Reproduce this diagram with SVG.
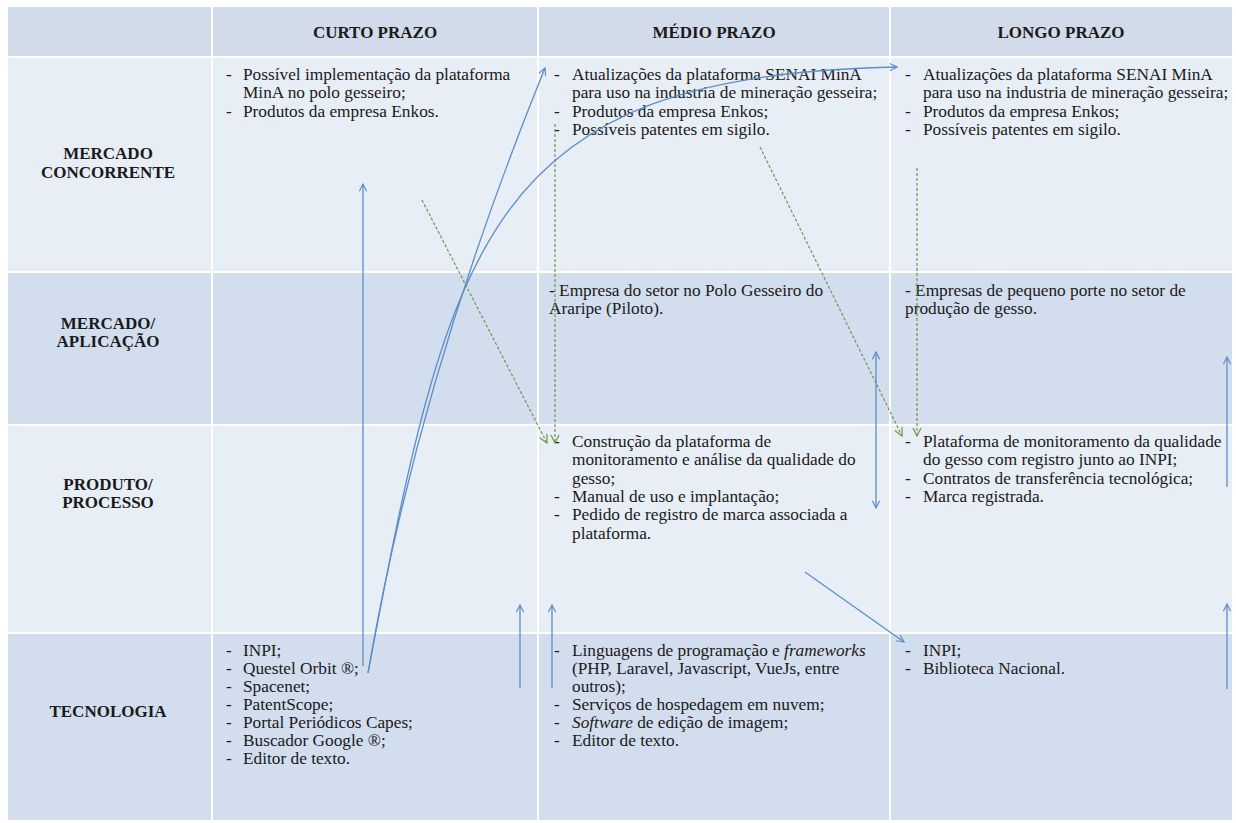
<svg xmlns="http://www.w3.org/2000/svg" width="1236" height="823" viewBox="0 0 1236 823">
<style>
text{font-family:'Liberation Serif','Tinos','Times New Roman','DejaVu Serif',serif}
.t{font-size:17.3px;fill:#1a1a1a}
.h{font-size:17px;font-weight:bold;fill:#1a1a1a;text-anchor:middle}
.hd{fill:#d1dbe9}
.lt{fill:#e8eef6}
.dk{fill:#d2ddee}
.b{fill:none;stroke:#5b8ec9;stroke-width:1.3}
.g{fill:none;stroke:#74944a;stroke-width:1.2;stroke-dasharray:3 2}
</style>
<defs>
<marker id="ab" viewBox="0 0 10 10" refX="9" refY="5" markerWidth="9" markerHeight="9" markerUnits="userSpaceOnUse" orient="auto-start-reverse">
<path d="M1,1 L9,5 L1,9" fill="none" stroke="#5b8ec9" stroke-width="1.3"/>
</marker>
<marker id="ag" viewBox="0 0 10 10" refX="9" refY="5" markerWidth="10" markerHeight="10" markerUnits="userSpaceOnUse" orient="auto">
<path d="M1,1 L9,5 L1,9" fill="none" stroke="#74944a" stroke-width="1.2"/>
</marker>
</defs>
<rect width="1236" height="823" fill="#ffffff"/>
<g id="grid">
<rect class="hd" x="8" y="7" width="203" height="49"/>
<rect class="hd" x="213" y="7" width="324" height="49"/>
<rect class="hd" x="539" y="7" width="350" height="49"/>
<rect class="hd" x="891" y="7" width="341" height="49"/>
<rect class="lt" x="8" y="58" width="203" height="213"/>
<rect class="lt" x="213" y="58" width="324" height="213"/>
<rect class="lt" x="539" y="58" width="350" height="213"/>
<rect class="lt" x="891" y="58" width="341" height="213"/>
<rect class="dk" x="8" y="273" width="203" height="151"/>
<rect class="dk" x="213" y="273" width="324" height="151"/>
<rect class="dk" x="539" y="273" width="350" height="151"/>
<rect class="dk" x="891" y="273" width="341" height="151"/>
<rect class="lt" x="8" y="426" width="203" height="206"/>
<rect class="lt" x="213" y="426" width="324" height="206"/>
<rect class="lt" x="539" y="426" width="350" height="206"/>
<rect class="lt" x="891" y="426" width="341" height="206"/>
<rect class="dk" x="8" y="634" width="203" height="186"/>
<rect class="dk" x="213" y="634" width="324" height="186"/>
<rect class="dk" x="539" y="634" width="350" height="186"/>
<rect class="dk" x="891" y="634" width="341" height="186"/>
</g>
<g id="headers">
<text class="h" x="375" y="38">CURTO PRAZO</text>
<text class="h" x="714" y="38">MÉDIO PRAZO</text>
<text class="h" x="1061" y="38">LONGO PRAZO</text>
</g>
<g id="row-mercado-concorrente">
<text class="h" x="108" y="159">MERCADO</text>
<text class="h" x="108" y="178">CONCORRENTE</text>
</g>
<g id="row-mercado-aplicacao">
<text class="h" x="108" y="329">MERCADO/</text>
<text class="h" x="108" y="347">APLICAÇÃO</text>
</g>
<g id="row-produto-processo">
<text class="h" x="108" y="490">PRODUTO/</text>
<text class="h" x="108" y="508">PROCESSO</text>
</g>
<g id="row-tecnologia">
<text class="h" x="108" y="717">TECNOLOGIA</text>
</g>
<g id="cell-curto-concorrente" class="t">
<text x="226" y="80">-</text><text x="243" y="80">Possível implementação da plataforma</text>
<text x="243" y="98.3">MinA no polo gesseiro;</text>
<text x="226" y="116.6">-</text><text x="243" y="116.6">Produtos da empresa Enkos.</text>
</g>
<g id="cell-medio-concorrente" class="t">
<text x="554" y="80">-</text><text x="572" y="80">Atualizações da plataforma SENAI MinA</text>
<text x="572" y="98.3">para uso na industria de mineração gesseira;</text>
<text x="554" y="116.6">-</text><text x="572" y="116.6">Produtos da empresa Enkos;</text>
<text x="554" y="134.9">-</text><text x="572" y="134.9">Possíveis patentes em sigilo.</text>
</g>
<g id="cell-longo-concorrente" class="t">
<text x="905" y="80">-</text><text x="923" y="80">Atualizações da plataforma SENAI MinA</text>
<text x="923" y="98.3">para uso na industria de mineração gesseira;</text>
<text x="905" y="116.6">-</text><text x="923" y="116.6">Produtos da empresa Enkos;</text>
<text x="905" y="134.9">-</text><text x="923" y="134.9">Possíveis patentes em sigilo.</text>
</g>
<g id="cell-medio-aplicacao" class="t">
<text x="549" y="296">- Empresa do setor no Polo Gesseiro do</text>
<text x="549" y="314.3">Araripe (Piloto).</text>
</g>
<g id="cell-longo-aplicacao" class="t">
<text x="905" y="296">- Empresas de pequeno porte no setor de</text>
<text x="905" y="314.3">produção de gesso.</text>
</g>
<g id="cell-medio-produto" class="t">
<text x="554" y="447">-</text><text x="572" y="447">Construção da plataforma de</text>
<text x="572" y="465.3">monitoramento e análise da qualidade do</text>
<text x="572" y="483.6">gesso;</text>
<text x="554" y="501.9">-</text><text x="572" y="501.9">Manual de uso e implantação;</text>
<text x="554" y="520.2">-</text><text x="572" y="520.2">Pedido de registro de marca associada a</text>
<text x="572" y="538.5">plataforma.</text>
</g>
<g id="cell-longo-produto" class="t">
<text x="905" y="447">-</text><text x="923" y="447">Plataforma de monitoramento da qualidade</text>
<text x="923" y="465.3">do gesso com registro junto ao INPI;</text>
<text x="905" y="483.6">-</text><text x="923" y="483.6">Contratos de transferência tecnológica;</text>
<text x="905" y="501.9">-</text><text x="923" y="501.9">Marca registrada.</text>
</g>
<g id="cell-curto-tecnologia" class="t">
<text x="226" y="656">-</text><text x="243" y="656">INPI;</text>
<text x="226" y="674">-</text><text x="243" y="674">Questel Orbit ®;</text>
<text x="226" y="692">-</text><text x="243" y="692">Spacenet;</text>
<text x="226" y="710">-</text><text x="243" y="710">PatentScope;</text>
<text x="226" y="728">-</text><text x="243" y="728">Portal Periódicos Capes;</text>
<text x="226" y="746">-</text><text x="243" y="746">Buscador Google ®;</text>
<text x="226" y="764">-</text><text x="243" y="764">Editor de texto.</text>
</g>
<g id="cell-medio-tecnologia" class="t">
<text x="554" y="656">-</text><text x="572" y="656">Linguagens de programação e <tspan font-style="italic">frameworks</tspan></text>
<text x="572" y="674">(PHP, Laravel, Javascript, VueJs, entre</text>
<text x="572" y="692">outros);</text>
<text x="554" y="710">-</text><text x="572" y="710">Serviços de hospedagem em nuvem;</text>
<text x="554" y="728">-</text><text x="572" y="728"><tspan font-style="italic">Software</tspan> de edição de imagem;</text>
<text x="554" y="746">-</text><text x="572" y="746">Editor de texto.</text>
</g>
<g id="cell-longo-tecnologia" class="t">
<text x="905" y="656">-</text><text x="923" y="656">INPI;</text>
<text x="905" y="674">-</text><text x="923" y="674">Biblioteca Nacional.</text>
</g>
<g id="connectors">
<path class="b" d="M363,666 L363,184" marker-end="url(#ab)"/>
<path class="b" d="M368,673 Q418,380 545,68" marker-end="url(#ab)"/>
<path class="b" d="M368,673 C450,240 485,75 897,67" marker-end="url(#ab)"/>
<path class="b" d="M520,688 L520,605" marker-end="url(#ab)"/>
<path class="b" d="M552,688 L552,605" marker-end="url(#ab)"/>
<path class="b" d="M876,508 L876,352" marker-start="url(#ab)" marker-end="url(#ab)"/>
<path class="b" d="M1227,487 L1227,357" marker-end="url(#ab)"/>
<path class="b" d="M1227,689 L1227,604" marker-end="url(#ab)"/>
<path class="b" d="M805,572 L904,642" marker-end="url(#ab)"/>
<path class="g" d="M422,200 L547,443" marker-end="url(#ag)"/>
<path class="g" d="M555,124 L555,443" marker-end="url(#ag)"/>
<path class="g" d="M760,147 L902,436" marker-end="url(#ag)"/>
<path class="g" d="M917,168 L917,436" marker-end="url(#ag)"/>
</g>
</svg>
